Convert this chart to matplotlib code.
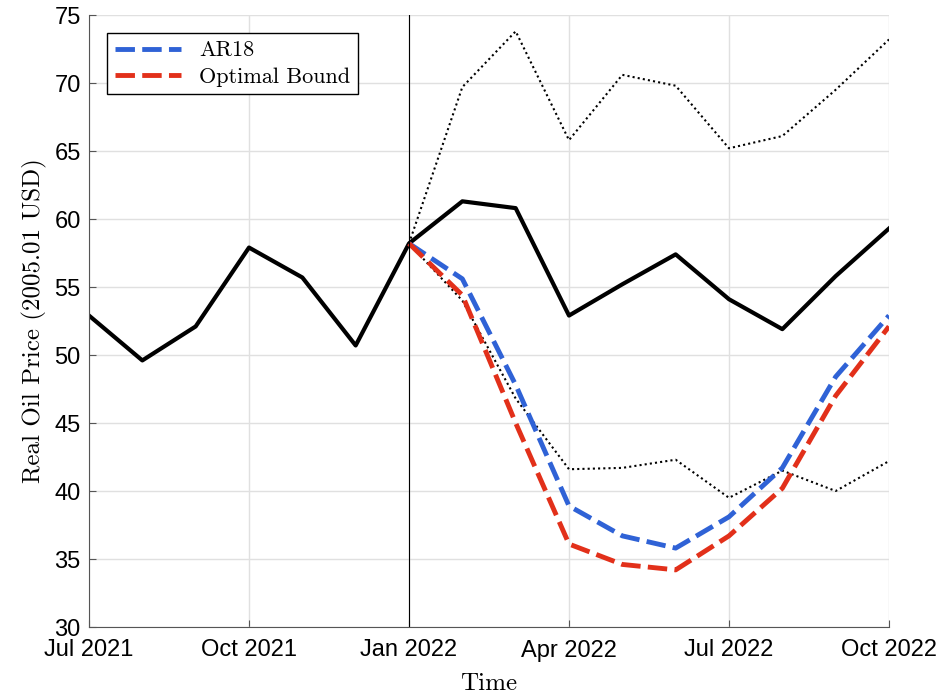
import matplotlib.pyplot as plt
import numpy as np

months = np.arange(16)  # Jul 2021 .. Oct 2022
tick_pos = [0, 3, 6, 9, 12, 15]
tick_labels = ["Jul 2021", "Oct 2021", "Jan 2022", "Apr 2022", "Jul 2022", "Oct 2022"]

actual = [52.9, 49.6, 52.1, 57.9, 55.7, 50.7, 58.2, 61.3, 60.8, 52.9,
          55.2, 57.4, 54.1, 51.9, 55.8, 59.3]

fc_months = np.arange(6, 16)
upper = [58.2, 69.7, 73.8, 65.8, 70.6, 69.8, 65.2, 66.1, 69.5, 73.2]
lower = [58.2, 54.0, 46.8, 41.6, 41.7, 42.3, 39.5, 41.5, 40.0, 42.2]
ar18 = [58.2, 55.6, 47.8, 38.9, 36.7, 35.8, 38.1, 41.7, 48.4, 52.9]
optimal = [58.2, 54.4, 45.0, 36.1, 34.6, 34.2, 36.7, 40.2, 47.0, 52.1]

fig = plt.figure(figsize=(9.43, 7), dpi=100)
ax = fig.add_axes([89/943, 73/700, 800/943, 612/700])

ax.plot(months, actual, color="black", lw=3)
ax.plot(fc_months, upper, color="black", lw=1.5, ls=(0, (1, 1.5)))
ax.plot(fc_months, lower, color="black", lw=1.5, ls=(0, (1, 1.5)))
ax.plot(fc_months, ar18, color="#2f62d6", lw=3.5, ls=(0, (4, 1.5)), label="AR18")
ax.plot(fc_months, optimal, color="#e2301a", lw=3.5, ls=(0, (4, 1.5)), label="Optimal Bound")
ax.axvline(6, color="black", lw=0.8)

ax.set_xlim(0, 15)
ax.set_ylim(30, 75)
ax.set_xticks(tick_pos)
ax.set_xticklabels(tick_labels)
ax.set_yticks(np.arange(30, 76, 5))
ax.tick_params(labelsize=17, direction="in", length=5, color="#555555")
ax.tick_params(axis="x", pad=9)
ax.tick_params(axis="y", pad=6)
for lab in ax.get_xticklabels() + ax.get_yticklabels():
    lab.set_family("Liberation Sans")
ax.grid(True, color="#e0e0e0", lw=1)
ax.set_axisbelow(True)
for s in ["top", "right"]:
    ax.spines[s].set_visible(False)
for s in ["left", "bottom"]:
    ax.spines[s].set_color("#555555")

ax.set_xlabel("Time", fontsize=18, family="cmr10", labelpad=8)
ax.set_ylabel("Real Oil Price (2005.01 USD)", fontsize=18, family="cmr10", labelpad=5)
leg = ax.legend(loc="upper left", bbox_to_anchor=(18/800, 1 - 18/612), borderaxespad=0,
                prop={"family": "cmr10", "size": 16},
                fancybox=False, edgecolor="black", handlelength=3.0, borderpad=0.35,
                labelspacing=0.3, framealpha=1)
leg.get_frame().set_linewidth(1)

fig.savefig("out.png", dpi=100)
